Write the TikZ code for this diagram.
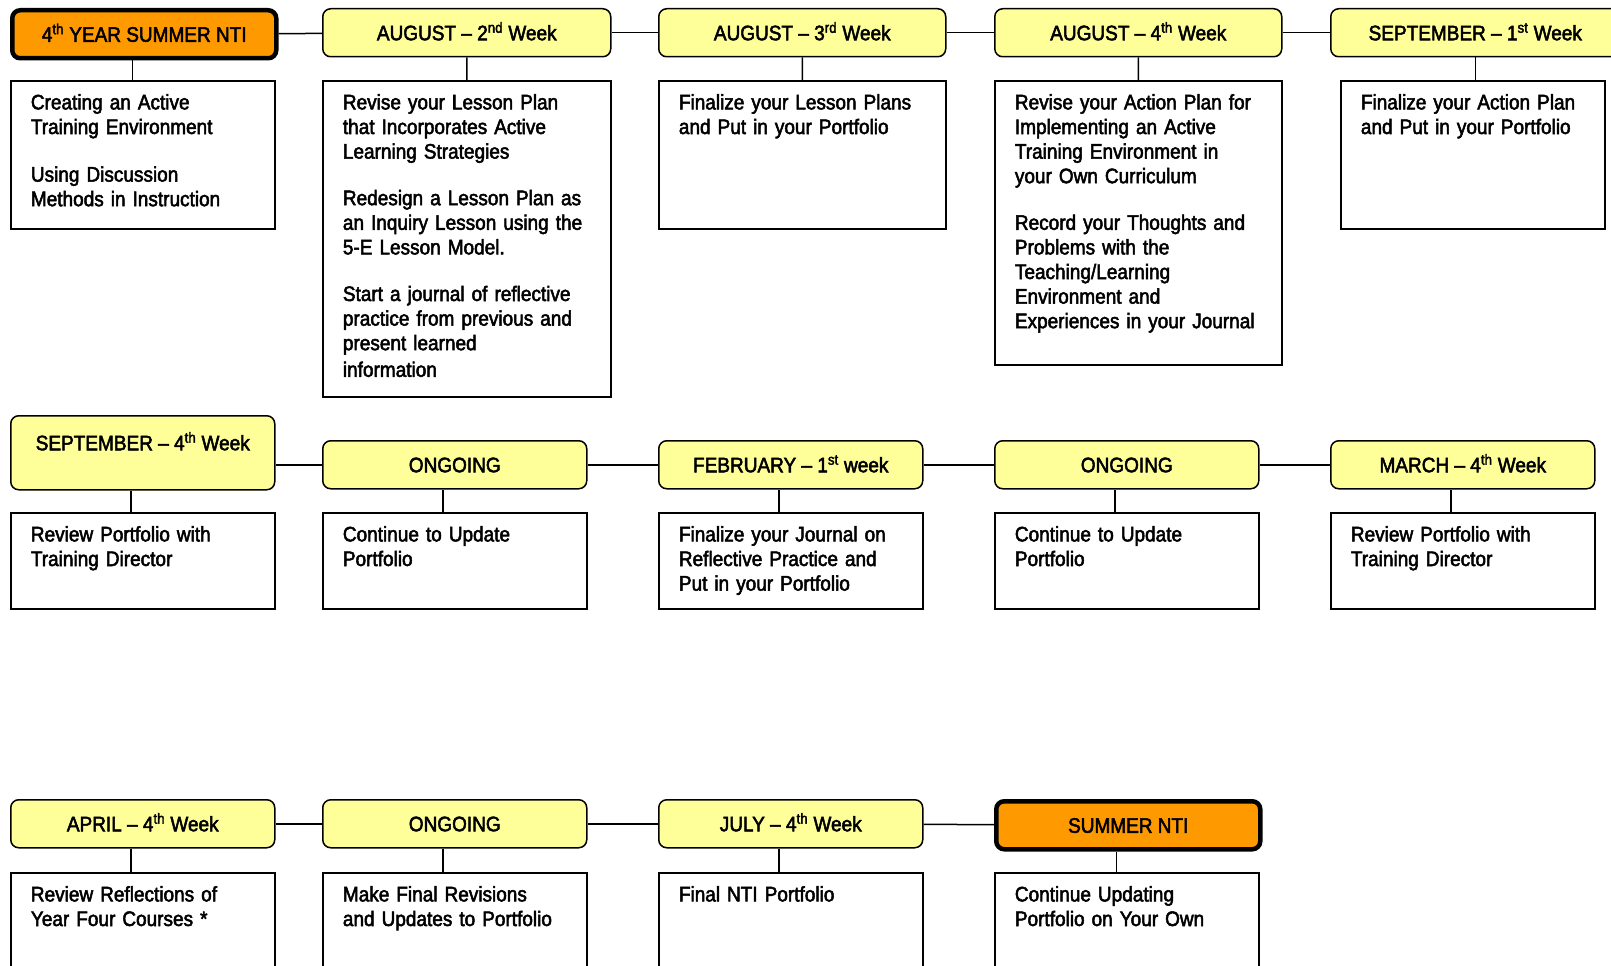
\documentclass[tikz,border=0pt]{standalone}
\usepackage{fontspec}
\setmainfont{Liberation Sans}[FakeStretch=0.905, FakeBold=2.4]
\usepackage{xcolor}
\usetikzlibrary{positioning}
\definecolor{weekyellow}{HTML}{FFFF99}
\definecolor{ntiorange}{HTML}{FF9900}
\tikzset{
week/.style={
    rectangle,
    rounded corners=8pt,
    draw=black,
    line width=1.5pt,
    fill=weekyellow,
    anchor=north west,
    inner sep=0pt,
    minimum width=264pt,
    minimum height=48pt,
    text height=15pt,
    text depth=0pt,
    font=\fontsize{21}{24.6}\selectfont
},
milestone/.style={week, fill=ntiorange, line width=4.5pt},
todo/.style={
    rectangle,
    draw=black,
    line width=1.8pt,
    fill=white,
    anchor=north west,
    align=left,
    inner xsep=20pt,
    inner ysep=13pt,
    text height=15.5pt,
    font=\fontsize{21}{24.6}\selectfont
},
link/.style={draw=black, line width=1.5pt}
}

\begin{document}
\begin{tikzpicture}[x=1pt, y=-1pt]
    \useasboundingbox (0,0) rectangle (1611,966);

    % headers, first row
    \node[milestone] (nti4) at (10,8) {4\textsuperscript{th} YEAR SUMMER NTI};
    \node[week, minimum width=288pt] (aug2) at (322,8) {AUGUST -- 2\textsuperscript{nd} Week};
    \node[week, minimum width=287pt] (aug3) at (658,8) {AUGUST -- 3\textsuperscript{rd} Week};
    \node[week, minimum width=287pt] (aug4) at (994,8) {AUGUST -- 4\textsuperscript{th} Week};
    \node[week, minimum width=289pt] (sep1) at (1330,8) {SEPTEMBER -- 1\textsuperscript{st} Week};

    % tasks, first row
    \node[todo, text width=224pt, text depth=106.5pt] (nti4t) at (10,80)
        {Creating an Active\\Training Environment\\[23pt]Using Discussion\\Methods in Instruction};
    \node[todo, text width=248pt, text depth=274.5pt] (aug2t) at (322,80)
        {Revise your Lesson Plan\\that Incorporates Active\\Learning Strategies\\[22pt]Redesign a Lesson Plan as\\an Inquiry Lesson using the\\5-E Lesson Model.\\[22pt]Start a journal of reflective\\practice from previous and\\present learned\\[2pt]information};
    \node[todo, text width=247pt, text depth=106.5pt] (aug3t) at (658,80)
        {Finalize your Lesson Plans\\and Put in your Portfolio};
    \node[todo, text width=247pt, text depth=242.5pt] (aug4t) at (994,80)
        {Revise your Action Plan for\\Implementing an Active\\Training Environment in\\your Own Curriculum\\[22pt]Record your Thoughts and\\Problems with the\\Teaching/Learning\\Environment and\\Experiences in your Journal};
    \node[todo, text width=224pt, text depth=106.5pt] (sep1t) at (1340,80)
        {Finalize your Action Plan\\and Put in your Portfolio};

    % headers, second row
    \node[week, minimum height=74pt, text depth=20pt] (sep4) at (10,415) {SEPTEMBER -- 4\textsuperscript{th} Week};
    \node[week] (go1) at (322,440) {ONGOING};
    \node[week] (feb1) at (658,440) {FEBRUARY -- 1\textsuperscript{st} week};
    \node[week] (go2) at (994,440) {ONGOING};
    \node[week] (mar4) at (1330,440) {MARCH -- 4\textsuperscript{th} Week};

    % tasks, second row
    \node[todo, text width=224pt, text depth=54.5pt] (sep4t) at (10,512)
        {Review Portfolio with\\Training Director};
    \node[todo, text width=224pt, text depth=54.5pt] (go1t) at (322,512)
        {Continue to Update\\Portfolio};
    \node[todo, text width=224pt, text depth=54.5pt] (feb1t) at (658,512)
        {Finalize your Journal on\\Reflective Practice and\\Put in your Portfolio};
    \node[todo, text width=224pt, text depth=54.5pt] (go2t) at (994,512)
        {Continue to Update\\Portfolio};
    \node[todo, text width=224pt, text depth=54.5pt] (mar4t) at (1330,512)
        {Review Portfolio with\\Training Director};

    % headers, third row
    \node[week] (apr4) at (10,799) {APRIL -- 4\textsuperscript{th} Week};
    \node[week] (go3) at (322,799) {ONGOING};
    \node[week] (jul4) at (658,799) {JULY -- 4\textsuperscript{th} Week};
    \node[milestone] (nti) at (994,799) {SUMMER NTI};

    % tasks, third row
    \node[todo, text width=224pt, text depth=88.5pt] (apr4t) at (10,872)
        {Review Reflections of\\Year Four Courses *};
    \node[todo, text width=224pt, text depth=88.5pt] (go3t) at (322,872)
        {Make Final Revisions\\and Updates to Portfolio};
    \node[todo, text width=224pt, text depth=88.5pt] (jul4t) at (658,872)
        {Final NTI Portfolio};
    \node[todo, text width=224pt, text depth=88.5pt] (ntit) at (994,872)
        {Continue Updating\\Portfolio on Your Own};

    % edges
    \draw[link] (nti4) -- (aug2);
    \draw[link] (aug2) -- (aug3);
    \draw[link] (aug3) -- (aug4);
    \draw[link] (aug4) -- (sep1);
    \draw[link] (go1.west -| sep4.east) -- (go1);
    \draw[link] (go1) -- (feb1);
    \draw[link] (feb1) -- (go2);
    \draw[link] (go2) -- (mar4);
    \draw[link] (apr4) -- (go3);
    \draw[link] (go3) -- (jul4);
    \draw[link] (jul4) -- (nti);

    \draw[link] ([xshift=-12pt]nti4.south) -- ([xshift=-12pt]nti4.south |- nti4t.north);
    \draw[link] (aug2) -- (aug2t);
    \draw[link] (aug3) -- (aug3t);
    \draw[link] (aug4) -- (aug4t);
    \draw[link] (sep1.south) -- (sep1.south |- sep1t.north);
    \foreach \w in {sep4, go1, feb1, go2, mar4, apr4, go3, jul4, nti}
        \draw[link] ([xshift=-12pt]\w.south) -- ([xshift=-12pt]\w.south |- \w t.north);

\end{tikzpicture}
\end{document}
